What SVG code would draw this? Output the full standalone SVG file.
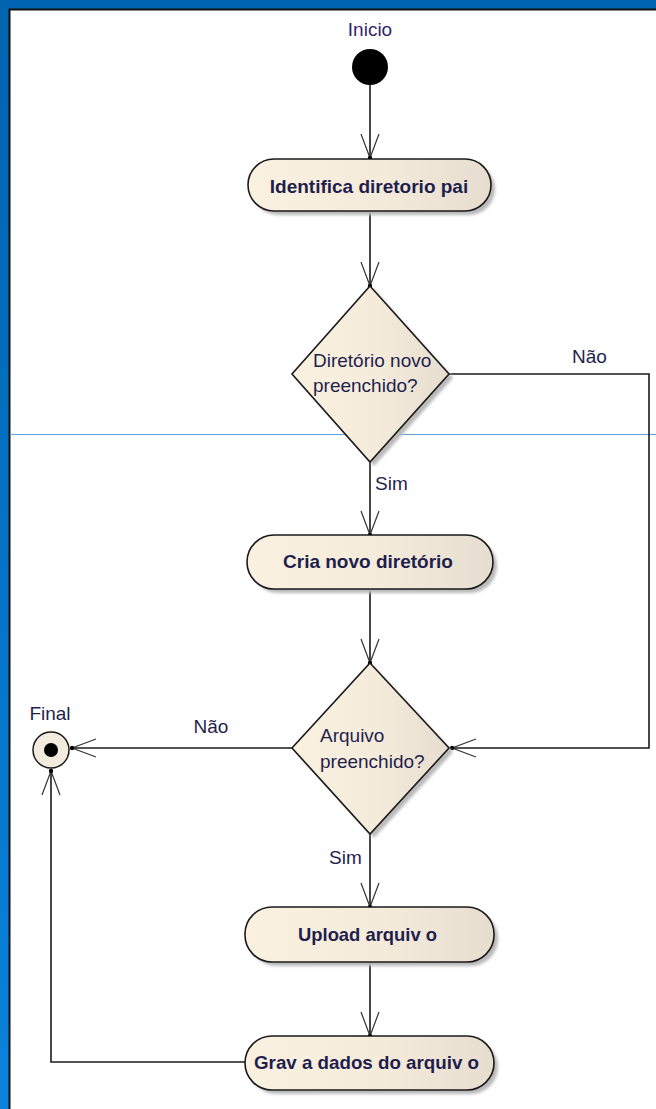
<svg xmlns="http://www.w3.org/2000/svg" width="656" height="1109" viewBox="0 0 656 1109">
<style>
.lbl{font-family:"Liberation Sans",Arial,sans-serif;font-size:19px;fill:#1f1f4d}
.bold{font-weight:bold}
.node{fill:url(#cream);stroke:#1a1a1a;stroke-width:1.6}
.shadow{fill:#b9b9b9;filter:url(#blur)}
.conn{fill:none;stroke:#1a1a1a;stroke-width:1.6}
</style>
<defs>
<linearGradient id="cream" x1="0" y1="0" x2="1" y2="0">
<stop offset="0" stop-color="#fbf1e1"/>
<stop offset="0.55" stop-color="#f5ebdb"/>
<stop offset="1" stop-color="#e6ddd0"/>
</linearGradient>
<linearGradient id="side" x1="0" y1="0" x2="0" y2="1">
<stop offset="0" stop-color="#0063ae"/>
<stop offset="1" stop-color="#0a82dc"/>
</linearGradient>
<filter id="blur" x="-10%" y="-10%" width="120%" height="120%"><feGaussianBlur stdDeviation="1.5"/></filter>
<marker id="arr" markerUnits="userSpaceOnUse" markerWidth="30" markerHeight="24" viewBox="-26 -12 30 24" refX="0" refY="0" orient="auto">
<path d="M-24,-9 L0,0 L-24,9" fill="none" stroke="#333" stroke-width="1.2"/>
<circle cx="0" cy="0" r="2.2" fill="#000"/>
</marker>
</defs>
<rect x="0" y="0" width="656" height="1109" fill="#ffffff"/>
<rect x="0" y="0" width="656" height="9" fill="#0065b0"/>
<rect x="0" y="0" width="9" height="1109" fill="url(#side)"/>
<path d="M9.5,1109 V9.5 H656" fill="none" stroke="#111" stroke-width="2"/>
<line x1="10" y1="434.5" x2="656" y2="434.5" stroke="#5aa2dc" stroke-width="1"/>

<g id="connectors">
<line class="conn" x1="370" y1="85" x2="370" y2="158" marker-end="url(#arr)"/>
<line class="conn" x1="370" y1="211" x2="370" y2="286" marker-end="url(#arr)"/>
<line class="conn" x1="370" y1="462" x2="370" y2="535" marker-end="url(#arr)"/>
<line class="conn" x1="370" y1="589" x2="370" y2="663" marker-end="url(#arr)"/>
<path class="conn" d="M449,374 H649 V748 H452" marker-end="url(#arr)"/>
<line class="conn" x1="292" y1="748" x2="72" y2="748" marker-end="url(#arr)"/>
<line class="conn" x1="370" y1="834" x2="370" y2="907" marker-end="url(#arr)"/>
<line class="conn" x1="370" y1="962" x2="370" y2="1036" marker-end="url(#arr)"/>
<path class="conn" d="M245,1062 H51 V771" marker-end="url(#arr)"/>
<text class="lbl" x="572" y="363">Não</text>
<text class="lbl" x="375" y="490">Sim</text>
<text class="lbl" x="211" y="733" text-anchor="middle">Não</text>
<text class="lbl" x="329" y="864">Sim</text>
</g>

<g id="inicio">
<text class="lbl" x="370" y="36" text-anchor="middle" style="fill:#33266b">Inicio</text>
<circle cx="370" cy="67" r="18" fill="#000"/>
</g>

<g id="identifica">
<rect class="shadow" x="252" y="163" width="243" height="52" rx="26"/>
<rect class="node" x="248" y="159" width="243" height="52" rx="26"/>
<text class="lbl bold" x="369" y="193" text-anchor="middle">Identifica diretorio pai</text>
</g>

<g id="decisao1">
<polygon class="shadow" points="374,290 453,378 374,466 296,378"/>
<polygon class="node" points="370,286 449,374 370,462 292,374"/>
<text class="lbl" x="313" y="367">Diretório novo</text>
<text class="lbl" x="313" y="392">preenchido?</text>
</g>

<g id="cria">
<rect class="shadow" x="251" y="539" width="246" height="54" rx="27"/>
<rect class="node" x="247" y="535" width="246" height="54" rx="27"/>
<text class="lbl bold" x="368" y="568" text-anchor="middle">Cria novo diretório</text>
</g>

<g id="decisao2">
<polygon class="shadow" points="374,667 453,752 374,838 296,752"/>
<polygon class="node" points="370,663 449,748 370,834 292,748"/>
<text class="lbl" x="320" y="742">Arquivo</text>
<text class="lbl" x="320" y="768">preenchido?</text>
</g>

<g id="final">
<text class="lbl" x="50" y="720" text-anchor="middle">Final</text>
<circle cx="51" cy="750" r="18" fill="#f3ebde" stroke="#1a1a1a" stroke-width="1.5"/>
<circle cx="51" cy="750" r="7" fill="#000"/>
</g>

<g id="upload">
<rect class="shadow" x="249" y="911" width="249" height="55" rx="27"/>
<rect class="node" x="245" y="907" width="249" height="55" rx="27"/>
<text class="lbl bold" x="367.5" y="941" text-anchor="middle" textLength="139" lengthAdjust="spacingAndGlyphs">Upload arquiv o</text>
</g>

<g id="grava">
<rect class="shadow" x="249" y="1040" width="249" height="54" rx="27"/>
<rect class="node" x="245" y="1036" width="249" height="54" rx="27"/>
<text class="lbl bold" x="366.5" y="1069" text-anchor="middle" textLength="225" lengthAdjust="spacingAndGlyphs">Grav a dados do arquiv o</text>
</g>
</svg>
